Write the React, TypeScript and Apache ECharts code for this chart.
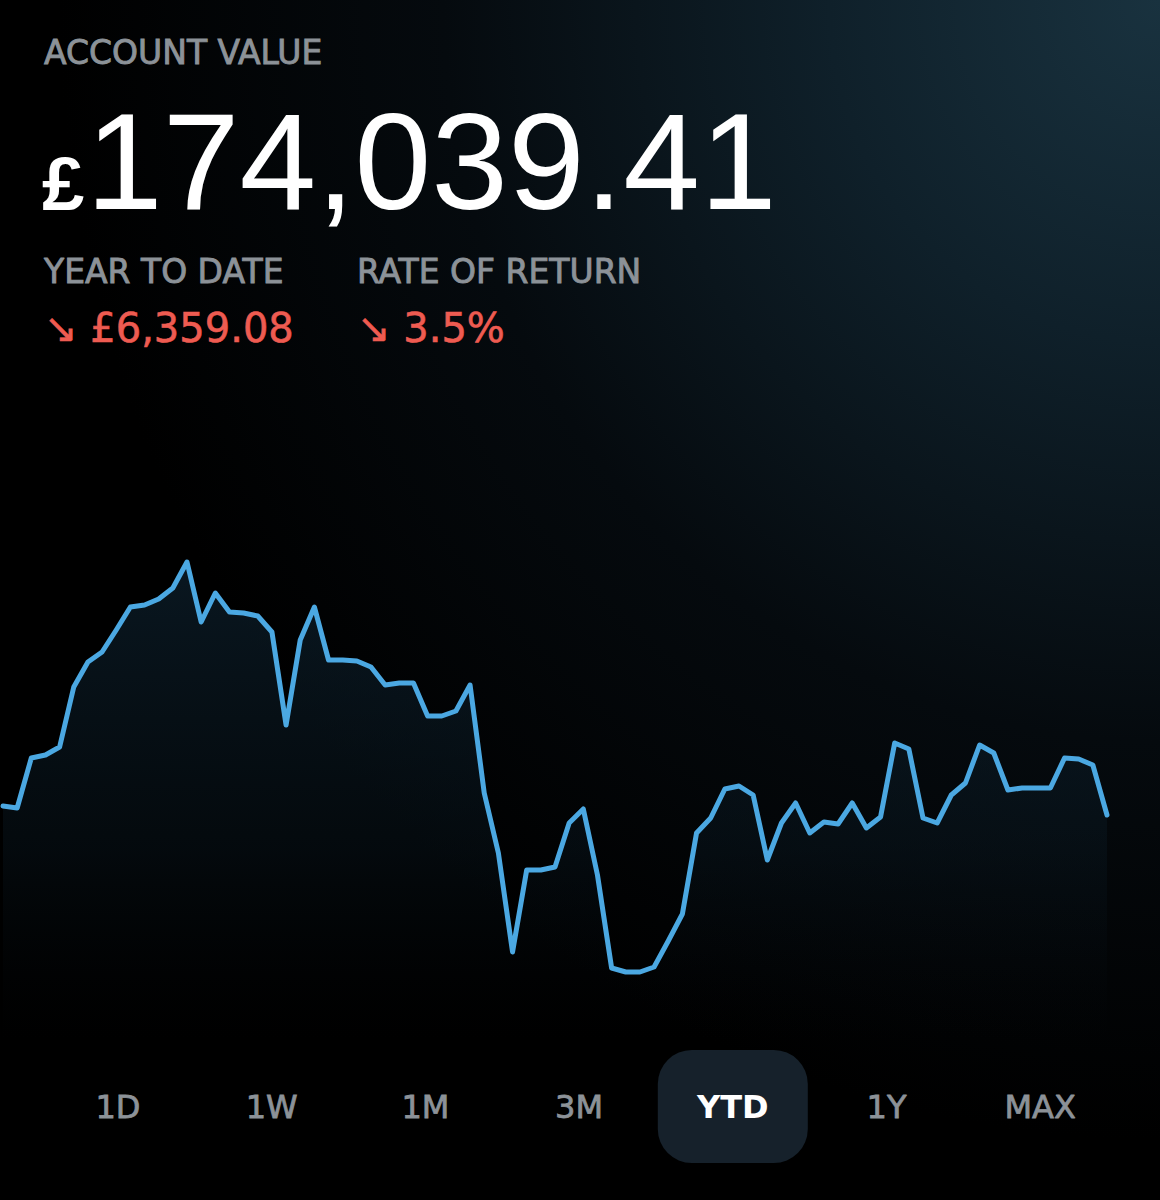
import React, { useEffect, useRef } from "react";
import * as echarts from "echarts";

// Relative account value curve (arbitrary units)
const values: number[] = [
  234, 232, 282, 285, 293, 353, 378, 388, 410, 433,
  435, 441, 452, 478, 418, 447, 428, 427, 424, 408,
  315, 400, 433, 380, 380, 379, 373, 355, 357, 357,
  324, 324, 329, 355, 247, 187, 88, 170, 170, 173,
  217, 231, 165, 72, 68, 68, 73, 99, 126, 207,
  222, 251, 254, 245, 180, 217, 237, 207, 218, 216,
  237, 212, 223, 297, 291, 222, 217, 245, 257, 295,
  287, 250, 252, 252, 252, 282, 281, 275, 225,
];
const days: string[] = values.map((_, i) => `D${i + 1}`);

const title = "ACCOUNT VALUE";
const currency = "£";
const accountValue = "174,039.41";
const statLabels = ["YEAR TO DATE", "RATE OF RETURN"];
const statValues = ["↘ £6,359.08", "↘ 3.5%"];
const ranges = ["1D", "1W", "1M", "3M", "YTD", "1Y", "MAX"];
const activeRange = "YTD";

const GREY = "#8c9298";
const RED = "#ee5b51";
const LINE = "#4ba8e2";
const FONT = '"Liberation Sans", Arial, sans-serif';
const LFONT = '"DejaVu Sans", sans-serif';

export default function App() {
  const ref = useRef<HTMLDivElement>(null);
  useEffect(() => {
    document.body.style.margin = "0";
    document.body.style.background = "#000";
    if (!ref.current) return;
    const chart = echarts.init(ref.current, undefined, { renderer: "svg" });

    const statX = [44, 357];
    const rangeX0 = 118;
    const rangeStep = 153.7;

    const graphic: any[] = [
      {
        type: "rect",
        z: -10,
        silent: true,
        shape: { x: 0, y: 0, width: 1160, height: 1200 },
        style: {
          fill: new echarts.graphic.RadialGradient(1, 0, 0.95, [
            { offset: 0, color: "#19323f" },
            { offset: 0.3, color: "#0f202a" },
            { offset: 0.65, color: "#050a0e" },
            { offset: 1, color: "#000000" },
          ]),
        },
      },
      {
        type: "text",
        x: 44,
        y: 52,
        style: {
          text: title,
          fill: GREY,
          stroke: GREY,
          lineWidth: 0.9,
          font: `400 33px ${LFONT}`,
          textAlign: "left",
          textVerticalAlign: "middle",
        },
      },
      {
        type: "text",
        x: 42,
        y: 183,
        style: {
          text: currency,
          fill: "#ffffff",
          font: `bold 76px ${FONT}`,
          textAlign: "left",
          textVerticalAlign: "middle",
        },
      },
      {
        type: "text",
        x: 86,
        y: 161,
        style: {
          text: accountValue,
          fill: "#ffffff",
          font: `400 138px ${FONT}`,
          textAlign: "left",
          textVerticalAlign: "middle",
        },
      },
    ];

    statLabels.forEach((s, i) => {
      graphic.push({
        type: "text",
        x: statX[i],
        y: 271,
        style: {
          text: s,
          fill: GREY,
          stroke: GREY,
          lineWidth: 0.9,
          font: `400 33px ${LFONT}`,
          textAlign: "left",
          textVerticalAlign: "middle",
        },
      });
      graphic.push({
        type: "text",
        x: statX[i],
        y: 328,
        style: {
          text: statValues[i],
          fill: RED,
          stroke: RED,
          lineWidth: 0.6,
          font: `400 40px ${LFONT}`,
          textAlign: "left",
          textVerticalAlign: "middle",
        },
      });
    });

    const activeIdx = ranges.indexOf(activeRange);
    graphic.push({
      type: "rect",
      shape: { x: rangeX0 + activeIdx * rangeStep - 75, y: 1050, width: 150, height: 113, r: 34 },
      style: { fill: "#16212b" },
    });
    ranges.forEach((r, i) => {
      const active = r === activeRange;
      graphic.push({
        type: "text",
        x: rangeX0 + i * rangeStep,
        y: 1107,
        style: {
          text: r,
          fill: active ? "#ffffff" : GREY,
          stroke: active ? "#ffffff" : GREY,
          lineWidth: active ? 0 : 0.8,
          font: `${active ? "bold" : "400"} 32px ${LFONT}`,
          textAlign: "center",
          textVerticalAlign: "middle",
        },
      });
    });

    chart.setOption({
      animation: false,
      backgroundColor: "#000000",
      grid: { left: 3, right: 53, top: 500, bottom: 160, containLabel: false },
      xAxis: {
        type: "category",
        data: days,
        boundaryGap: false,
        show: false,
      },
      yAxis: {
        type: "value",
        min: 0,
        max: 540,
        show: false,
      },
      series: [
        {
          type: "line",
          data: values,
          symbol: "none",
          smooth: false,
          z: 3,
          lineStyle: { color: LINE, width: 5, cap: "round", join: "round" },
          areaStyle: {
            origin: "start",
            color: new echarts.graphic.LinearGradient(0, 0, 0, 1, [
              { offset: 0, color: "rgba(18,44,62,0.75)" },
              { offset: 0.6, color: "rgba(12,30,42,0.45)" },
              { offset: 1, color: "rgba(8,14,20,0.0)" },
            ]),
          },
        },
      ],
      graphic,
    });
    return () => chart.dispose();
  }, []);
  return <div ref={ref} style={{ width: 1160, height: 1200 }} />;
}
